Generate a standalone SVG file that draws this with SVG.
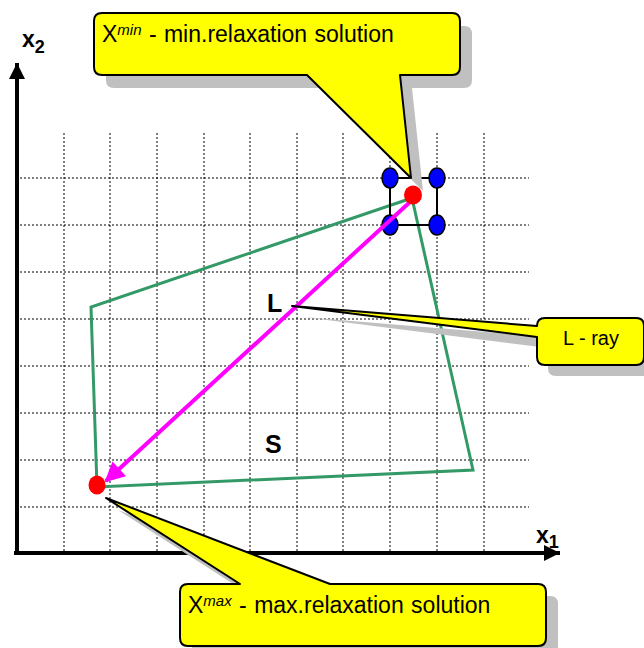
<svg xmlns="http://www.w3.org/2000/svg" width="644" height="648" viewBox="0 0 644 648">
<style>
.grid{stroke:#000;stroke-width:1;stroke-dasharray:2 2;fill:none}
.axis{stroke:#000;stroke-width:4;fill:none}
.lbl{font-family:"Liberation Sans",Arial,sans-serif;font-weight:bold;fill:#000}
.ct{font-family:"Liberation Sans",Arial,sans-serif;fill:#000}
.sup{font-size:15px;font-style:italic}
.shadow{fill:#c0c0c0}
.callout{fill:#ffff00;stroke:#000;stroke-width:2;stroke-linejoin:round}
.blue{fill:#0000ff;stroke:#000;stroke-width:1.5}
.red{fill:#ff0000}
</style>
<defs>
<marker id="ax" viewBox="0 0 10 10" refX="10" refY="5" markerWidth="4" markerHeight="4" markerUnits="strokeWidth" orient="auto">
<path d="M0,0 L10,5 L0,10 Z" fill="#000"/>
</marker>
<marker id="mg" viewBox="0 0 10 10" refX="9" refY="5" markerWidth="5.5" markerHeight="5" markerUnits="strokeWidth" orient="auto">
<path d="M0,0 L10,5 L0,10 Z" fill="#ff00ff"/>
</marker>
</defs>
<g id="grid">
<path class="grid" d="M64,133V553M110,133V553M157,133V553M204,133V553M250,133V553M297,133V553M343,133V553M390,133V553M437,133V553M484,133V553"/>
<path class="grid" d="M20,178H529M20,225H529M20,272H529M20,319H529M20,366H529M20,413H529M20,460H529M20,507H529"/>
</g>
<g id="axes">
<line class="axis" x1="17" y1="555" x2="17" y2="63" marker-end="url(#ax)"/>
<line class="axis" x1="14" y1="553" x2="560" y2="553" marker-end="url(#ax)"/>
<text class="lbl" x="22" y="47" font-size="23">x<tspan font-size="18" dy="6">2</tspan></text>
<text class="lbl" x="536" y="543" font-size="23">x<tspan font-size="18" dy="5">1</tspan></text>
</g>
<g id="region-S">
<polygon points="412,198 91,307 97,487 473,470" fill="none" stroke="#339966" stroke-width="3" stroke-linejoin="miter"/>
<text class="lbl" x="265" y="453" font-size="25">S</text>
</g>
<g id="box">
<rect x="390" y="178" width="47" height="47" fill="none" stroke="#000" stroke-width="2"/>
<ellipse class="blue" cx="390" cy="178" rx="8" ry="10"/>
<ellipse class="blue" cx="437" cy="178" rx="8" ry="10"/>
<ellipse class="blue" cx="390" cy="225" rx="8" ry="10"/>
<ellipse class="blue" cx="437" cy="225" rx="8" ry="10"/>
</g>
<g id="connectors">
<line x1="410" y1="202" x2="106" y2="481" stroke="#ff00ff" stroke-width="4" marker-end="url(#mg)"/>
</g>
<g id="L-label">
<text class="lbl" x="267" y="312" font-size="25">L</text>
</g>
<g id="callout-min">
<path class="shadow" transform="translate(12,13)" d="M102,13H452Q460,13 460,21V67Q460,75 452,75H400L411,178L307,75H102Q94,75 94,67V21Q94,13 102,13Z"/>
<path class="callout" d="M102,13H452Q460,13 460,21V67Q460,75 452,75H400L411,178L307,75H102Q94,75 94,67V21Q94,13 102,13Z"/>
<text class="ct" x="102" y="42" font-size="23" word-spacing="1">X<tspan class="sup" dy="-7">min</tspan><tspan dy="7"> - min.relaxation solution</tspan></text>
</g>
<g id="callout-ray">
<path class="shadow" transform="translate(11,11)" d="M545,318H636Q644,318 644,326V357Q644,365 636,365H545Q537,365 537,357V337L292,306L537,326V326Q537,318 545,318Z"/>
<path class="callout" d="M545,318H636Q644,318 644,326V357Q644,365 636,365H545Q537,365 537,357V337L292,306L537,326V326Q537,318 545,318Z"/>
<text class="ct" x="591" y="345" font-size="20" text-anchor="middle">L - ray</text>
</g>
<g id="callout-max">
<path class="shadow" transform="translate(12,12)" d="M188,584H538Q546,584 546,592V638Q546,646 538,646H188Q180,646 180,638V592Q180,584 188,584H240L106,498L330,584Z"/>
<path class="callout" d="M188,584H240L106,498L330,584H538Q546,584 546,592V638Q546,646 538,646H188Q180,646 180,638V592Q180,584 188,584Z"/>
<text class="ct" x="188" y="613" font-size="23" word-spacing="1">X<tspan class="sup" dy="-7">max</tspan><tspan dy="7"> - max.relaxation solution</tspan></text>
</g>
<g id="points">
<ellipse class="red" cx="413" cy="195" rx="9" ry="9.5"/>
<ellipse class="red" cx="97" cy="485" rx="8.5" ry="9.5"/>
</g>
</svg>
